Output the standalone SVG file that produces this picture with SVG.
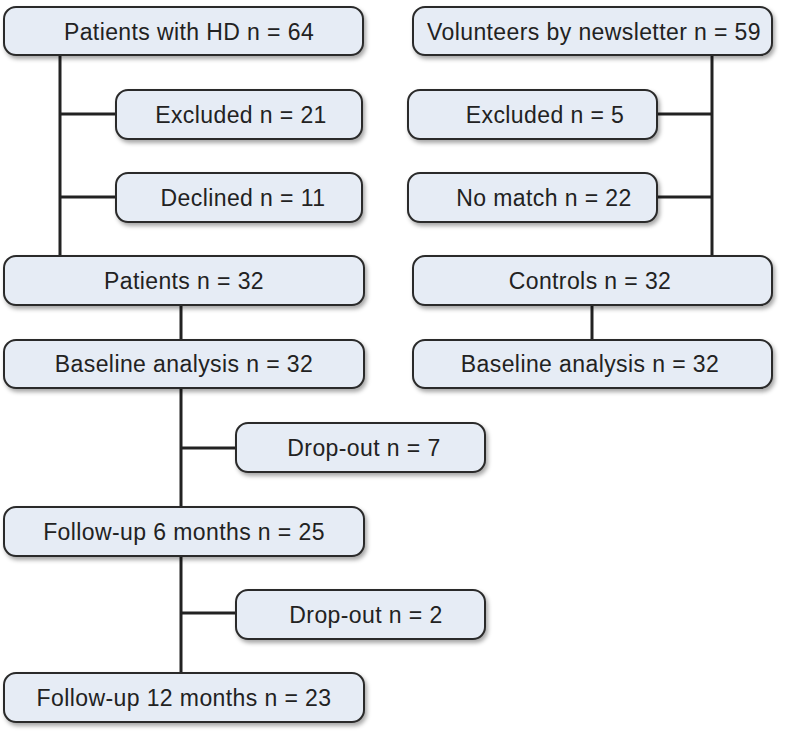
<svg xmlns="http://www.w3.org/2000/svg" width="787" height="737" viewBox="0 0 787 737">
<defs>
<filter id="sh" x="-10%" y="-20%" width="125%" height="160%">
<feDropShadow dx="2" dy="3" stdDeviation="2" flood-color="#000" flood-opacity="0.35"/>
</filter>
<style>
.box{fill:#e6ecf5;stroke:#2a2a2a;stroke-width:2;filter:url(#sh)}
.t{font-family:"Liberation Sans",Arial,sans-serif;font-size:23px;letter-spacing:0.4px;fill:#222;text-anchor:middle}
.c{stroke:#222;stroke-width:3;fill:none}
</style>
</defs>
<rect width="787" height="737" fill="#fff"/>
<g id="connectors">
<path class="c" d="M60 55V256M60 114H116M60 197H116"/>
<path class="c" d="M712 55V256M657 114H712M657 197H712"/>
<path class="c" d="M181 305V340M181 388V673M181 448H236M181 613H236"/>
<path class="c" d="M592 305V340"/>
</g>
<g id="n1"><rect class="box" x="4" y="7" width="359" height="48" rx="12"/><text class="t" x="189" y="40">Patients with HD n = 64</text></g>
<g id="n2"><rect class="box" x="413" y="7" width="359" height="48" rx="12"/><text class="t" x="594" y="40">Volunteers by newsletter n = 59</text></g>
<g id="n3"><rect class="box" x="116" y="90" width="246" height="49" rx="12"/><text class="t" x="241" y="123">Excluded n = 21</text></g>
<g id="n4"><rect class="box" x="408" y="90" width="249" height="49" rx="12"/><text class="t" x="545" y="123">Excluded n = 5</text></g>
<g id="n5"><rect class="box" x="116" y="173" width="246" height="49" rx="12"/><text class="t" x="243" y="206">Declined n = 11</text></g>
<g id="n6"><rect class="box" x="408" y="173" width="249" height="49" rx="12"/><text class="t" x="544" y="206">No match n = 22</text></g>
<g id="n7"><rect class="box" x="4" y="256" width="360" height="49" rx="12"/><text class="t" x="184" y="289">Patients n = 32</text></g>
<g id="n8"><rect class="box" x="413" y="256" width="359" height="49" rx="12"/><text class="t" x="590" y="289">Controls n = 32</text></g>
<g id="n9"><rect class="box" x="4" y="340" width="360" height="48" rx="12"/><text class="t" x="184" y="372">Baseline analysis n = 32</text></g>
<g id="n10"><rect class="box" x="413" y="340" width="359" height="48" rx="12"/><text class="t" x="590" y="372">Baseline analysis n = 32</text></g>
<g id="n11"><rect class="box" x="236" y="423" width="249" height="49" rx="12"/><text class="t" x="364" y="456">Drop-out n = 7</text></g>
<g id="n12"><rect class="box" x="4" y="507" width="360" height="49" rx="12"/><text class="t" x="184" y="540">Follow-up 6 months n = 25</text></g>
<g id="n13"><rect class="box" x="236" y="590" width="249" height="49" rx="12"/><text class="t" x="366" y="623">Drop-out n = 2</text></g>
<g id="n14"><rect class="box" x="4" y="673" width="360" height="49" rx="12"/><text class="t" x="184" y="706">Follow-up 12 months n = 23</text></g>
</svg>
